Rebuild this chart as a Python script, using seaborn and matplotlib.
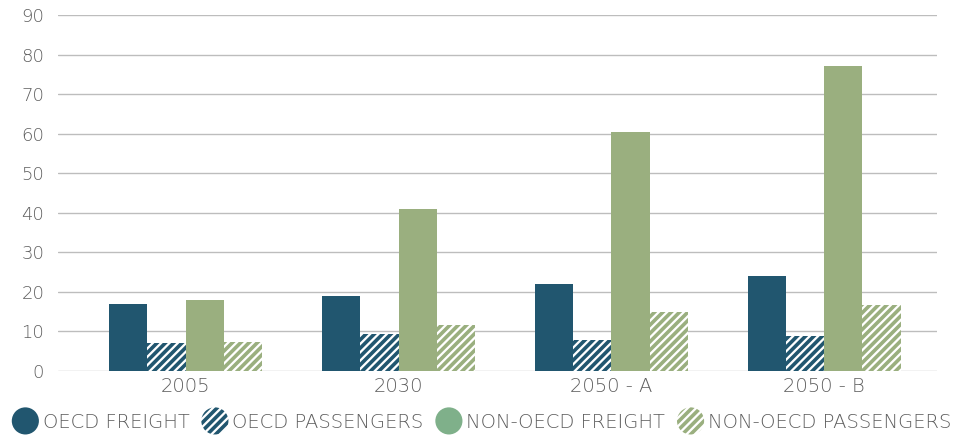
import numpy as np
import pandas as pd
import matplotlib
matplotlib.use("Agg")
import matplotlib.pyplot as plt
import seaborn as sns
from matplotlib.patches import Ellipse, Patch
from matplotlib.legend_handler import HandlerPatch


years = ["2005", "2030", "2050 - A", "2050 - B"]
series = ["OECD FREIGHT", "OECD PASSENGERS", "NON-OECD FREIGHT", "NON-OECD PASSENGERS"]

oecd_freight = [17, 19, 22, 24]
oecd_passengers = [7.1, 9.4, 7.8, 8.9]
non_oecd_freight = [18, 41, 60.4, 77.1]
non_oecd_passengers = [7.3, 11.6, 14.9, 16.7]

colors = ["#21566F", "#21566F", "#9AAF7F", "#9AAF7F"]
legend_colors = ["#21566F", "#21566F", "#7FB08A", "#9AAF7F"]
hatched = [False, True, False, True]

text_color = "#5E5E5E"


df = pd.DataFrame({
    "year": years * 4,
    "series": np.repeat(series, 4),
    "value": oecd_freight + oecd_passengers + non_oecd_freight + non_oecd_passengers,
})


sns.set_style("white")
plt.rcParams["font.family"] = ["DejaVu Sans"]
plt.rcParams["font.weight"] = "light"
plt.rcParams["hatch.linewidth"] = 2.6

fig = plt.figure(figsize=(9.59, 4.36), dpi=100)
ax = fig.add_axes([0.0605, 0.149, 0.9165, 0.8166])

sns.barplot(
    data=df,
    x="year",
    y="value",
    hue="series",
    hue_order=series,
    order=years,
    palette=colors,
    width=0.72,
    gap=0,
    saturation=1,
    linewidth=0,
    legend=False,
    ax=ax,
)

# hatch the passenger bars
for cont, col, h in zip(ax.containers, colors, hatched):
    for bar in cont:
        bar.set_linewidth(0)
        bar.set_edgecolor(col)
        if h:
            bar.set_facecolor("white")
            bar.set_hatch("////")


ax.set_ylim(0, 90)
ax.set_xlim(-0.6, 3.53)
ax.set_yticks(range(0, 91, 10))
ax.yaxis.grid(True, color="#BDBDBD", linewidth=1)
ax.set_axisbelow(True)
for s in ax.spines.values():
    s.set_visible(False)
ax.tick_params(axis="both", length=0, colors=text_color)
ax.tick_params(axis="y", pad=10, labelsize=13)
ax.tick_params(axis="x", pad=4, labelsize=14)
ax.set_xlabel("")
ax.set_ylabel("")


# legend with round markers
def make_circle(legend, orig_handle, xdescent, ydescent, width, height, fontsize):
    d = height + 7
    return Ellipse(xy=(width / 2 - xdescent, height / 2 - ydescent), width=d, height=d)


handles = []
for lab, col, h in zip(series, legend_colors, hatched):
    if h:
        handles.append(Patch(facecolor="white", edgecolor=col, hatch="////", linewidth=0, label=lab))
    else:
        handles.append(Patch(facecolor=col, edgecolor=col, linewidth=0, label=lab))

leg = fig.legend(
    handles=handles,
    loc="lower left",
    bbox_to_anchor=(-0.005, -0.03),
    ncol=4,
    frameon=False,
    handler_map={Patch: HandlerPatch(patch_func=make_circle)},
    handlelength=1.3,
    handleheight=1.0,
    handletextpad=0.25,
    columnspacing=0.65,
    fontsize=14,
)
for t in leg.get_texts():
    t.set_color(text_color)


fig.savefig("out.png", dpi=100)
plt.close(fig)
